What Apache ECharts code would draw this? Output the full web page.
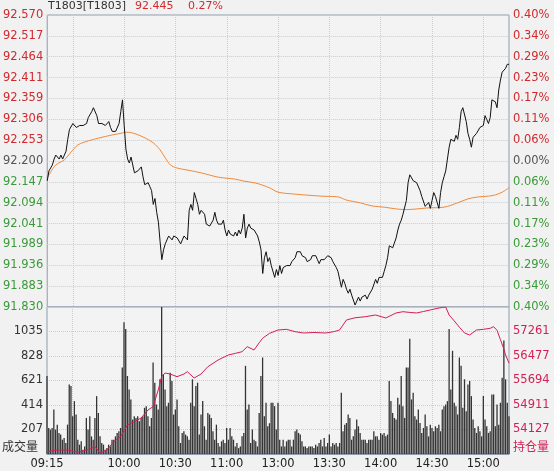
<!DOCTYPE html>
<html><head><meta charset="utf-8">
<script src="https://cdn.jsdelivr.net/npm/echarts@6/dist/echarts.min.js"></script>
<style>html,body{margin:0;padding:0;background:#f1f1f1}#c{width:554px;height:471px}</style>
</head><body><div id="c"></div>
<script>
// ---- tick labels ----
const priceTicks = ['91.830','91.883','91.936','91.989','92.041','92.094','92.147','92.200','92.253','92.306','92.359','92.411','92.464','92.517','92.570'];
const pctTicks = ['0.40%','0.34%','0.29%','0.23%','0.17%','0.11%','0.06%','0.00%','0.06%','0.11%','0.17%','0.23%','0.29%','0.34%','0.40%'];
const volTicks = [207, 414, 621, 828, 1035];
const oiTicks = [54127, 54911, 55694, 56477, 57261];
const timeLabels = ['09:15','10:00','10:30','11:00','13:00','13:30','14:00','14:30','15:00'];
const gridTimes = ['09:30','10:00','10:30','11:00','13:00','13:30','14:00','14:30','15:00'];
const header = {code: 'T1803[T1803]', last: '92.445', chg: '0.27%'};

// ---- categories (one per minute, 11:30 and 13:00 share a slot) ----
function hm(m){const h=Math.floor(m/60),mm=m%60;return (h<10?'0':'')+h+':'+(mm<10?'0':'')+mm;}
const categories = [];
for (let m = 9*60+15; m < 11*60+30; m++) categories.push(hm(m));
categories.push('13:00');
for (let m = 13*60+1; m <= 15*60+15; m++) categories.push(hm(m));

// ---- price (per minute) ----
const price = [
92.150,92.175,92.170,92.190,92.205,92.215,92.210,92.205,92.215,92.205,
92.210,92.225,92.255,92.280,92.285,92.295,92.300,92.285,92.290,92.290,
92.285,92.290,92.295,92.295,92.310,92.315,92.325,92.335,92.340,92.315,
92.295,92.290,92.295,92.295,92.290,92.295,92.300,92.285,92.275,92.280,
92.275,92.275,92.295,92.325,92.355,92.290,92.230,92.205,92.195,92.210,
92.190,92.170,92.170,92.175,92.180,92.185,92.160,92.140,92.140,92.145,
92.135,92.125,92.090,92.105,92.070,92.045,91.995,91.950,91.975,91.990,
92.000,92.010,92.010,92.000,92.010,92.015,92.005,92.010,91.990,92.000,
92.010,92.015,92.000,92.075,92.090,92.075,92.120,92.105,92.090,92.065,
92.075,92.080,92.065,92.040,92.035,92.035,92.035,92.050,92.070,92.050,
92.040,92.045,92.040,92.050,92.025,92.010,92.025,92.015,92.020,92.010,
92.020,92.010,92.025,92.015,92.030,92.065,92.005,92.030,92.040,92.030,
92.035,92.025,92.030,92.010,91.995,91.975,91.915,91.955,91.970,91.945,
91.955,91.935,91.930,91.905,91.925,91.910,
91.935,91.915,91.930,91.925,91.935,91.930,91.935,91.945,91.950,91.955,
91.970,91.975,91.970,91.960,91.965,91.955,91.945,91.945,91.950,91.960,
91.955,91.960,91.950,91.940,91.950,91.955,91.950,91.955,91.960,91.965,
91.955,91.945,91.940,91.930,91.920,91.900,91.880,91.900,91.890,91.875,
91.865,91.875,91.860,91.855,91.835,91.845,91.855,91.845,91.855,91.850,
91.860,91.850,91.860,91.855,91.875,91.880,91.900,91.890,91.905,91.910,
91.905,91.920,91.935,91.955,91.985,91.990,91.980,91.975,92.005,92.025,
92.040,92.050,92.065,92.070,92.100,92.145,92.165,92.160,92.150,92.150,
92.145,92.140,92.125,92.110,92.105,92.085,92.080,92.095,92.080,92.100,
92.120,92.110,92.095,92.080,92.120,92.145,92.160,92.175,92.205,92.235,
92.255,92.260,92.250,92.265,92.255,92.285,92.325,92.335,92.330,92.300,
92.270,92.255,92.235,92.260,92.260,92.270,92.275,92.285,92.280,92.290,
92.315,92.305,92.295,92.310,92.355,92.355,92.350,92.335,92.380,92.405,
92.425,92.430,92.435,92.445,92.445
];

// ---- average price (sampled minutes) ----
const avgIdx = [0,2,5,10,14,18,24,30,38,44,46,50,56,62,66,69,72,76,82,90,100,110,115,122,130,135,145,160,170,175,183,190,197,205,210,215,222,232,240,246,252,258,262,266,270];
const avgVal = [92.157,92.172,92.190,92.203,92.223,92.241,92.251,92.258,92.266,92.271,92.273,92.271,92.261,92.246,92.228,92.208,92.190,92.182,92.177,92.170,92.159,92.154,92.149,92.144,92.132,92.121,92.116,92.111,92.109,92.101,92.094,92.086,92.083,92.078,92.077,92.078,92.081,92.083,92.094,92.104,92.109,92.111,92.114,92.121,92.132];

// ---- volume (per minute) ----
const volume = [
659,220,206,220,376,206,248,178,164,121,
135,93,248,588,574,319,447,333,121,79,
107,36,64,305,206,319,149,121,305,489,
347,149,93,79,36,50,79,64,121,121,
149,178,192,220,730,1113,1056,659,545,461,
291,319,305,319,277,305,319,390,404,319,
234,305,773,603,418,376,631,1242,674,545,
404,433,687,617,333,376,461,234,93,178,
192,164,149,121,433,631,404,574,603,164,
333,447,234,121,347,333,305,192,121,248,
93,64,107,121,93,220,121,220,149,121,
64,93,50,64,149,178,745,376,418,93,
206,121,107,64,347,659,815,319,433,234,
260,433,433,404,206,433,
121,64,121,64,107,121,121,64,121,192,
206,178,164,107,64,64,50,64,64,64,
50,79,64,93,121,64,135,64,93,164,
64,93,79,93,64,93,
517,192,248,262,333,305,121,149,206,291,
234,178,121,121,121,93,121,121,121,192,
149,149,121,178,164,178,149,164,
617,447,347,305,291,475,418,659,404,305,
730,730,973,461,517,319,291,376,262,178,
220,333,234,149,248,220,192,234,220,248,
192,376,404,418,447,1056,545,872,433,404,
333,815,745,390,631,362,588,617,489,291,
220,178,234,192,149,489,291,234,178,192,
503,503,234,418,248,433,645,958,631,433,319
];

// ---- open interest (sampled minutes) ----
const oiIdx = [0,6,12,18,24,28,31,35,39,43,47,51,55,59,62,65,67,69,72,76,80,82,86,90,94,100,106,110,114,117,121,124,126,130,135,140,145,150,156,163,168,171,175,180,186,192,198,204,208,212,216,220,224,228,231,233,235,238,241,244,247,251,255,259,261,263,265,267,268,270];
const oiVal = [53417,53470,53472,53400,53480,53577,53376,53470,53737,53897,54271,54377,54495,54751,54856,55390,55816,55934,55900,55816,55900,55976,55774,55900,56135,56350,56510,56560,56615,56775,56670,56900,57044,57200,57309,57330,57255,57213,57230,57213,57260,57309,57629,57700,57734,57789,57693,57853,57894,57870,57853,57900,57949,58000,58030,58044,57789,57600,57400,57213,57149,57309,57330,57363,57415,57300,57000,56700,56510,56250];

// ---- axis ranges ----
const pMin = 91.830, pMax = 92.570, pStep = (pMax - pMin) / 14;
const qMin = -0.40, qMax = 0.40, qStep = (qMax - qMin) / 14;
const vMax = 1242, vStep = 207;
const oStep = 783.47, oMin = oiTicks[0] - oStep, oMax = oMin + 6 * oStep;

const RED = '#d02a2e', GREEN = '#3a9a3a', GREY = '#555555', OICOL = '#d21f55';
const FONT = 'DejaVu Sans';
const gridCol = '#c9ccd0';

function nearestIdx(v, min, step){ return Math.round((v - min) / step); }

const chart = echarts.init(document.getElementById('c'), null, {renderer: 'canvas'});
chart.setOption({
  animation: false,
  backgroundColor: '#f1f1f1',
  textStyle: {fontFamily: FONT},
  graphic: [
    {type: 'text', left: 48, top: 1, style: {text: header.code, fill: '#333', font: '11px "DejaVu Sans"'}},
    {type: 'text', left: 135, top: 1, style: {text: header.last, fill: RED, font: '11px "DejaVu Sans"'}},
    {type: 'text', left: 188, top: 1, style: {text: header.chg, fill: RED, font: '11px "DejaVu Sans"'}},
    {type: 'text', left: 2, top: 440, style: {text: '成交量', fill: '#333', font: '12px "Noto Sans CJK SC"'}},
    {type: 'text', left: 513, top: 440, style: {text: '持仓量', fill: OICOL, font: '12px "Noto Sans CJK SC"'}}
  ],
  grid: [
    {left: 47, right: 45, top: 15, height: 292, show: true, borderColor: '#8d9cae', borderWidth: 1, backgroundColor: '#f3f3f3'},
    {left: 47, right: 45, top: 307, height: 147, show: true, borderColor: '#8d9cae', borderWidth: 1, backgroundColor: '#f3f3f3'}
  ],
  xAxis: [
    {type: 'category', gridIndex: 0, data: categories, boundaryGap: false,
     axisLine: {show: false}, axisTick: {show: false}, axisLabel: {show: false},
     splitLine: {show: true, interval: (i, v) => gridTimes.indexOf(v) >= 0, lineStyle: {color: gridCol, type: 'dotted'}}},
    {type: 'category', gridIndex: 1, data: categories, boundaryGap: false,
     axisLine: {show: true, lineStyle: {color: '#8d9cae'}}, axisTick: {show: false},
     axisLabel: {interval: (i, v) => timeLabels.indexOf(v) >= 0, color: '#222', fontSize: 11.5, fontFamily: FONT, margin: 4},
     splitLine: {show: true, interval: (i, v) => gridTimes.indexOf(v) >= 0, lineStyle: {color: gridCol, type: 'dotted'}}}
  ],
  yAxis: [
    {type: 'value', gridIndex: 0, position: 'left', min: pMin, max: pMax, interval: pStep * (1 + 1e-6), scale: true,
     axisLine: {show: false}, axisTick: {show: false},
     axisLabel: {margin: 4, fontSize: 11.5, fontFamily: FONT,
       formatter: v => priceTicks[nearestIdx(v, pMin, pStep)] || '',
       color: v => { const k = nearestIdx(parseFloat(v), pMin, pStep); return k > 7 ? RED : (k < 7 ? GREEN : GREY); }},
     splitLine: {show: true, lineStyle: {color: gridCol, type: 'dotted'}}},
    {type: 'value', gridIndex: 0, position: 'right', min: qMin, max: qMax, interval: qStep * (1 + 1e-6),
     axisLine: {show: false}, axisTick: {show: false}, splitLine: {show: false},
     axisLabel: {margin: 4, fontSize: 11.5, fontFamily: FONT,
       formatter: v => pctTicks[nearestIdx(v, qMin, qStep)] || '',
       color: v => { const k = nearestIdx(parseFloat(v), qMin, qStep); return k > 7 ? RED : (k < 7 ? GREEN : GREY); }}},
    {type: 'value', gridIndex: 1, position: 'left', min: 0, max: vMax, interval: vStep,
     axisLine: {show: false}, axisTick: {show: false},
     axisLabel: {margin: 4, fontSize: 11.5, fontFamily: FONT, color: '#333',
       formatter: v => volTicks.indexOf(Math.round(v)) >= 0 ? String(Math.round(v)) : ''},
     splitLine: {show: true, lineStyle: {color: gridCol, type: 'dotted'}}},
    {type: 'value', gridIndex: 1, position: 'right', min: oMin, max: oMax, interval: oStep,
     axisLine: {show: false}, axisTick: {show: false}, splitLine: {show: false},
     axisLabel: {margin: 4, fontSize: 11.5, fontFamily: FONT, color: OICOL,
       formatter: v => { const k = nearestIdx(v, oMin, oStep) - 1; return (k >= 0 && k < oiTicks.length) ? String(oiTicks[k]) : ''; }}}
  ],
  series: [
    {name: 'avg', type: 'line', xAxisIndex: 0, yAxisIndex: 0, showSymbol: false, smooth: 0.3,
     data: avgIdx.map((t, k) => [t, avgVal[k]]), lineStyle: {color: '#ef8a3c', width: 1}, z: 2},
    {name: 'price', type: 'line', xAxisIndex: 0, yAxisIndex: 0, showSymbol: false,
     data: price, lineStyle: {color: '#111', width: 1}, z: 3},
    {name: 'volume', type: 'bar', xAxisIndex: 1, yAxisIndex: 2, barWidth: 1.3,
     data: volume, itemStyle: {color: '#343434'}, z: 2},
    {name: 'oi', type: 'line', xAxisIndex: 1, yAxisIndex: 3, showSymbol: false,
     data: oiIdx.map((t, k) => [t, oiVal[k]]), lineStyle: {color: OICOL, width: 1}, z: 3}
  ]
});
</script></body></html>
